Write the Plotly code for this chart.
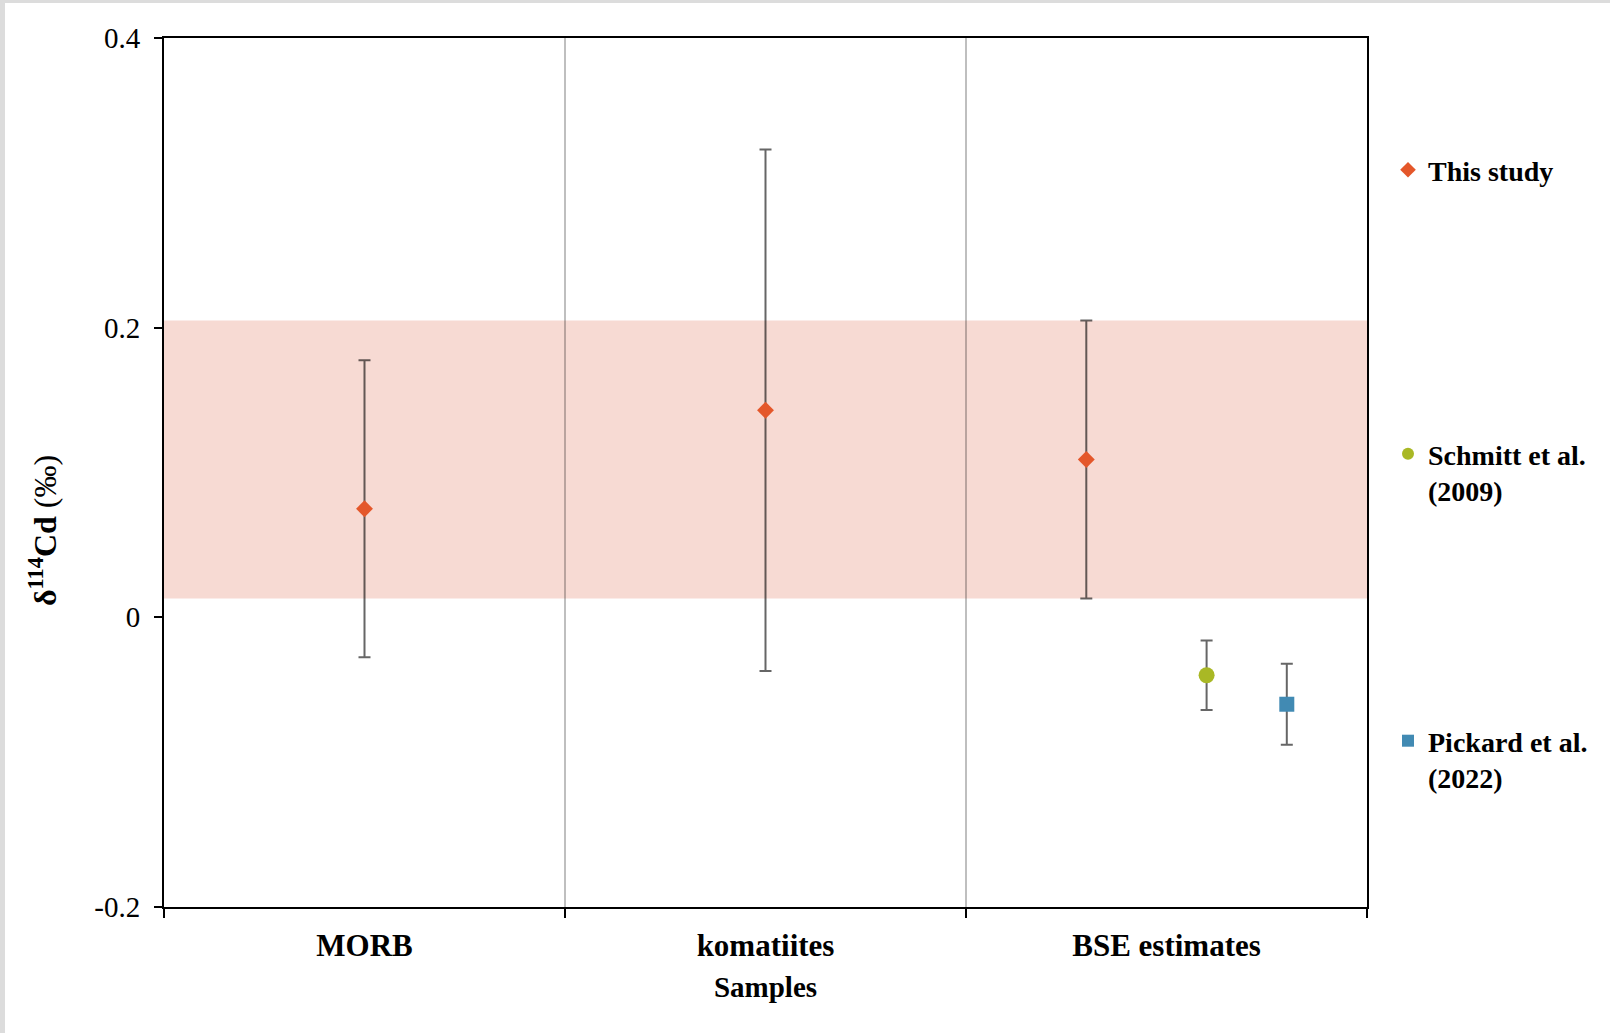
import plotly.graph_objects as go

# ---------------- data ----------------
categories = ["MORB", "komatiites", "BSE estimates"]

this_study_cat = [0, 1, 2]
this_study_offset = [0.0, 0.0, -0.2]
this_study_val = [0.075, 0.143, 0.109]
this_study_err = [0.1025, 0.180, 0.096]

schmitt_cat = [2]
schmitt_offset = [0.1]
schmitt_val = [-0.040]
schmitt_err = [0.024]

pickard_cat = [2]
pickard_offset = [0.3]
pickard_val = [-0.060]
pickard_err = [0.028]

y_ticks = [-0.2, 0, 0.2, 0.4]
y_ticktext = ["-0.2", "0", "0.2", "0.4"]

# shaded band = BSE estimate of this study (value +/- error)
band_lo = this_study_val[2] - this_study_err[2]
band_hi = this_study_val[2] + this_study_err[2]

# ---------------- layout constants ----------------
W, H = 1610, 1033
ML, MR, MT, MB = 164, 243, 38, 126
PW, PH = W - ML - MR, H - MT - MB
FONT = "Liberation Serif"
ERR_COLOR = "rgba(0,0,0,0.6)"

def xpos(cats, offs):
    return [c + 1 + o for c, o in zip(cats, offs)]

def px_to_paper_x(px):
    return (px - ML) / PW

def px_to_paper_y(py):
    return (H - MB - py) / PH

fig = go.Figure()

fig.add_trace(go.Scatter(
    x=xpos(this_study_cat, this_study_offset), y=this_study_val,
    mode="markers", name="<b>This study</b>",
    marker=dict(symbol="diamond", size=13, color="#E4572A"),
    error_y=dict(type="data", array=this_study_err, color=ERR_COLOR,
                 thickness=2, width=6),
    legend="legend",
))
fig.add_trace(go.Scatter(
    x=xpos(schmitt_cat, schmitt_offset), y=schmitt_val,
    mode="markers", name="<b>Schmitt et al.<br>(2009)</b>",
    marker=dict(symbol="circle", size=16, color="#A9B825"),
    error_y=dict(type="data", array=schmitt_err, color=ERR_COLOR,
                 thickness=2, width=6),
    legend="legend2",
))
fig.add_trace(go.Scatter(
    x=xpos(pickard_cat, pickard_offset), y=pickard_val,
    mode="markers", name="<b>Pickard et al.<br>(2022)</b>",
    marker=dict(symbol="square", size=15, color="#418AB3"),
    error_y=dict(type="data", array=pickard_err, color=ERR_COLOR,
                 thickness=2, width=6),
    legend="legend3",
))

# band
fig.add_shape(type="rect", xref="paper", yref="y", x0=0, x1=1,
              y0=band_lo, y1=band_hi, fillcolor="#F7DAD3",
              line=dict(width=0), layer="below")

# light gray border of the original image (top and left strips)
fig.add_shape(type="rect", xref="paper", yref="paper",
              x0=px_to_paper_x(0), x1=px_to_paper_x(5),
              y0=px_to_paper_y(H), y1=px_to_paper_y(0),
              fillcolor="#DCDCDC", line=dict(width=0), layer="below")
fig.add_shape(type="rect", xref="paper", yref="paper",
              x0=px_to_paper_x(0), x1=px_to_paper_x(W),
              y0=px_to_paper_y(3), y1=px_to_paper_y(0),
              fillcolor="#DCDCDC", line=dict(width=0), layer="below")

# y-axis title as annotation
fig.add_annotation(
    text="<b>δ<sup>114</sup>Cd</b> (‰)", textangle=-90,
    xref="paper", yref="paper",
    x=px_to_paper_x(43), y=px_to_paper_y(531),
    xanchor="center", yanchor="middle", showarrow=False,
    font=dict(family=FONT, size=32, color="black"),
)

legend_common = dict(
    xref="paper", yref="paper", xanchor="left", yanchor="top",
    x=px_to_paper_x(1388), bgcolor="rgba(0,0,0,0)",
    font=dict(family=FONT, size=28, color="black"),
    itemsizing="constant", valign="top", tracegroupgap=0,
)

fig.update_layout(
    width=W, height=H,
    margin=dict(l=ML, r=MR, t=MT, b=MB),
    paper_bgcolor="white", plot_bgcolor="white",
    font=dict(family=FONT, color="black"),
    showlegend=True,
    legend=dict(legend_common, y=px_to_paper_y(145)),
    legend2=dict(legend_common, y=px_to_paper_y(429)),
    legend3=dict(legend_common, y=px_to_paper_y(716)),
    xaxis=dict(
        range=[0.5, 3.5],
        tickmode="array", tickvals=[1, 2, 3],
        ticktext=["<b>%s</b>" % c for c in categories],
        tickfont=dict(family=FONT, size=31, color="black"),
        ticks="", showgrid=False, zeroline=False,
        ticklabelstandoff=10,
        showline=True, linecolor="black", linewidth=2, mirror=True,
        minor=dict(tickvals=[0.5, 1.5, 2.5, 3.5], ticks="outside",
                   ticklen=9, tickwidth=1.5, tickcolor="black",
                   showgrid=True, gridcolor="rgba(0,0,0,0.25)", gridwidth=2),
        title=dict(text="<b>Samples</b>", standoff=14,
                   font=dict(family=FONT, size=29, color="black")),
    ),
    yaxis=dict(
        range=[-0.2, 0.4],
        tickmode="array", tickvals=y_ticks, ticktext=y_ticktext,
        tickfont=dict(family=FONT, size=29, color="black"),
        ticks="outside", ticklen=8, tickwidth=1.5, tickcolor="black",
        ticklabelstandoff=8,
        showgrid=False, zeroline=False,
        showline=True, linecolor="black", linewidth=2, mirror=True,
    ),
)

fig.write_html("out.html")
